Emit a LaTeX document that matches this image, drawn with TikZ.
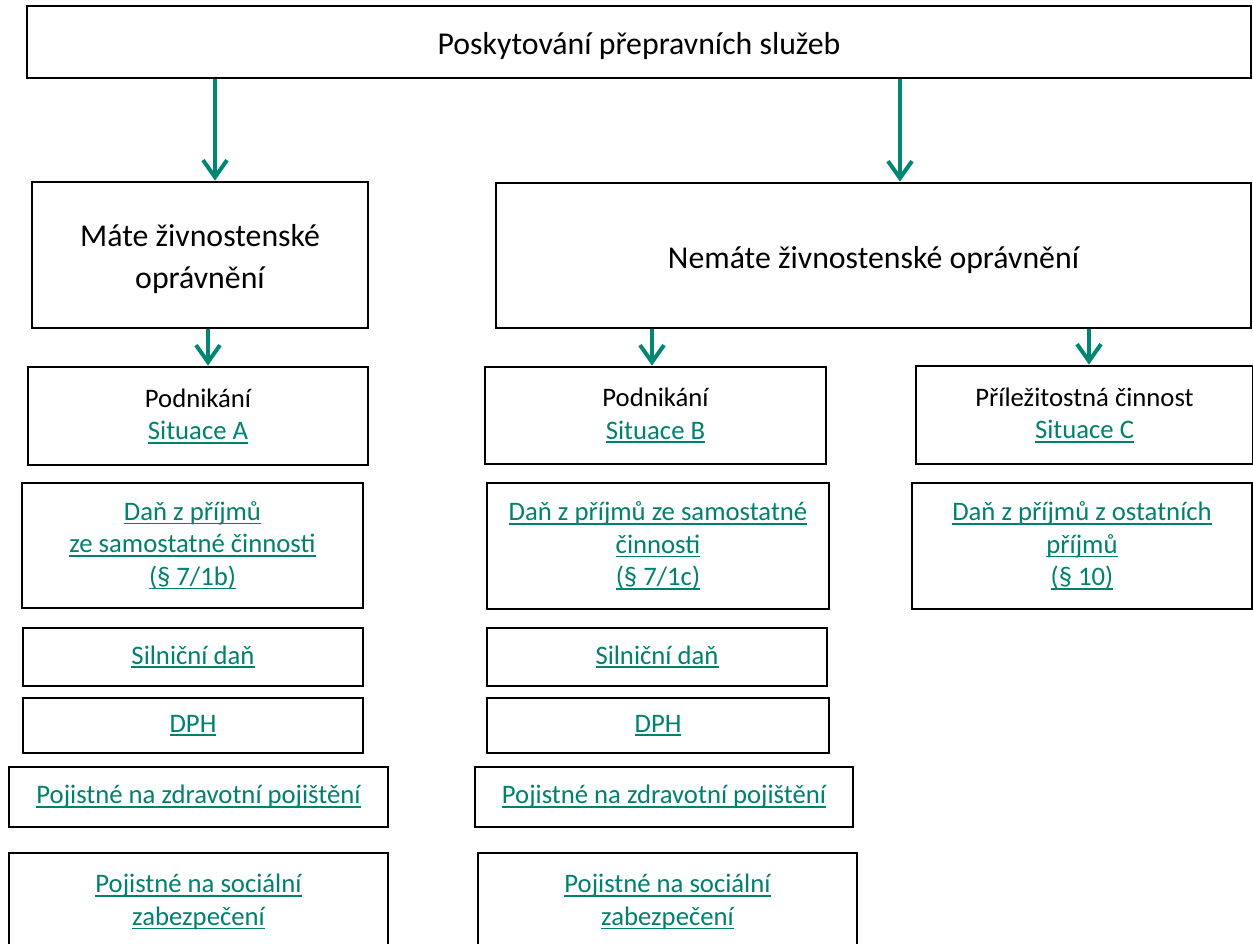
\documentclass[tikz,border=0pt]{standalone}
\usepackage{fontspec}
\setmainfont{Carlito}
\usetikzlibrary{arrows.meta}
\definecolor{linkc}{RGB}{0,128,110}
\definecolor{arrc}{RGB}{0,135,115}
\newcommand\lnk[1]{{\color{linkc}\setbox0=\hbox{#1}\rlap{\rule[-4pt]{\wd0}{1.8pt}}\box0}}
\newcommand\shiftdown[2]{\raisebox{-#1}[\height][\depth]{\begin{tabular}{@{}c@{}}#2\end{tabular}}}
\tikzset{
  box/.style={draw=black, line width=2.8pt, inner sep=0pt, align=center, fill=white},
  big/.style={font=\fontsize{31.8}{42}\selectfont},
  small/.style={font=\fontsize{26.7}{32.5}\selectfont},
  arr/.style={draw=arrc, line width=4pt, -{Straight Barb[length=17pt,width=24pt]}}
}
\begin{document}
\begin{tikzpicture}[x=1pt,y=-1pt]
\useasboundingbox (0,0) rectangle (1253,943);
% top
\node[box,big,minimum width=1224pt,minimum height=72pt] (top) at (639,42) {\shiftdown{4pt}{Poskytování přepravních služeb}};
% second level
\node[box,big,minimum width=336pt,minimum height=146pt] (mate) at (200,255) {\shiftdown{4pt}{Máte živnostenské\\oprávnění}};
\node[box,big,minimum width=755pt,minimum height=145pt] (nemate) at (873.5,255.5) {\shiftdown{5pt}{Nemáte živnostenské oprávnění}};
% third level
\node[box,small,minimum width=340pt,minimum height=98pt] (podA) at (198,416) {Podnikání\\\lnk{Situace A}};
\node[box,small,minimum width=341pt,minimum height=97pt] (podB) at (655.5,415.5) {Podnikání\\\lnk{Situace B}};
\node[box,small,minimum width=337pt,minimum height=98pt] (prilC) at (1084.5,415) {Příležitostná činnost\\\lnk{Situace C}};
% income tax
\node[box,small,minimum width=341pt,minimum height=125pt] (danA) at (192.5,545.5) {\lnk{Daň z příjmů}\\\lnk{ze samostatné činnosti}\\\lnk{(§ 7/1b)}};
\node[box,small,minimum width=342pt,minimum height=126pt] (danB) at (658,546) {\lnk{Daň z příjmů ze samostatné}\\\lnk{činnosti}\\\lnk{(§ 7/1c)}};
\node[box,small,minimum width=340pt,minimum height=126pt] (danC) at (1082,546) {\lnk{Daň z příjmů z ostatních}\\\lnk{příjmů}\\\lnk{(§ 10)}};
% road tax
\node[box,small,minimum width=340pt,minimum height=58pt] (silA) at (193,657) {\lnk{Silniční daň}};
\node[box,small,minimum width=340pt,minimum height=58pt] (silB) at (657,657) {\lnk{Silniční daň}};
% VAT
\node[box,small,minimum width=340pt,minimum height=55pt] (dphA) at (193,725.5) {\lnk{DPH}};
\node[box,small,minimum width=342pt,minimum height=55pt] (dphB) at (658,725.5) {\lnk{DPH}};
% health insurance
\node[box,small,minimum width=379pt,minimum height=60pt] (zdrA) at (198.5,797) {\lnk{Pojistné na zdravotní pojištění}};
\node[box,small,minimum width=378pt,minimum height=60pt] (zdrB) at (664,797) {\lnk{Pojistné na zdravotní pojištění}};
% social insurance
\node[box,small,minimum width=379pt,minimum height=98pt] (socA) at (198.5,902) {\lnk{Pojistné na sociální}\\\lnk{zabezpečení}};
\node[box,small,minimum width=379pt,minimum height=98pt] (socB) at (667.5,902) {\lnk{Pojistné na sociální}\\\lnk{zabezpečení}};
% arrows
\draw[arr] ([xshift=15pt]mate.north |- top.south) -- ([xshift=15pt]mate.north);
\draw[arr] ([xshift=26.5pt]nemate.north |- top.south) -- ([xshift=26.5pt]nemate.north);
\draw[arr] ([xshift=8pt]mate.south) -- ([xshift=8pt]mate.south |- podA.north);
\draw[arr] ([xshift=-3.5pt]podB.north |- nemate.south) -- ([xshift=-3.5pt]podB.north);
\draw[arr] ([xshift=4.5pt]prilC.north |- nemate.south) -- ([xshift=4.5pt]prilC.north);
\end{tikzpicture}
\end{document}
